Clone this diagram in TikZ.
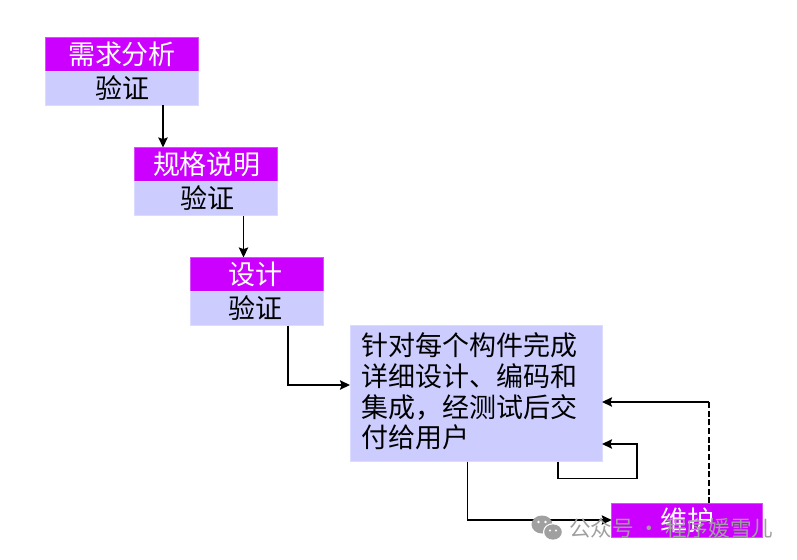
\documentclass[tikz,border=0pt]{standalone}
\usepackage{fontspec}
\setmainfont{Noto Sans CJK SC}
\usetikzlibrary{arrows.meta,calc}
\definecolor{headc}{HTML}{CC00FF}
\definecolor{bodyc}{HTML}{CCCCFF}
\definecolor{wmc}{HTML}{A0A0A0}
\def\u{0.75pt}
\newcommand{\lowtext}[2][0pt]{\hspace*{#1}\raisebox{-1.2pt}{#2}}
\tikzset{
  x=0.75pt,y=-0.75pt,
  cjktext/.style={font=\fontsize{20.25}{23}\selectfont,inner sep=0pt,outer sep=0pt},
  headbox/.style={cjktext,fill=headc,draw=headc!70!white,line width=0.4pt,text=white,anchor=north west},
  bodybox/.style={cjktext,fill=bodyc,draw=bodyc!70!white,line width=0.4pt,text=black,anchor=north west},
  flow/.style={line width=1.2pt,draw=black,-{Stealth[length=7.5pt,width=7pt,inset=1.2pt]}},
  flowplain/.style={line width=1.2pt,draw=black},
  wmtext/.style={font=\fontsize{16.2}{18}\selectfont,text=wmc,inner sep=0pt,anchor=west},
}
\begin{document}
\begin{tikzpicture}
\useasboundingbox (0,0) rectangle (797,560);
% requirements
\node[headbox,minimum width=153*\u,minimum height=34*\u] (h1) at (45.5,37.5) {\lowtext{需求分析}};
\node[bodybox,minimum width=153*\u,minimum height=34*\u] (b1) at (45.5,71.5) {\lowtext{验证}};
% specification
\node[headbox,minimum width=143*\u,minimum height=34*\u] (h2) at (134.5,147.5) {\lowtext[1.5pt]{规格说明}};
\node[bodybox,minimum width=143*\u,minimum height=34*\u] (b2) at (134.5,181.5) {\lowtext[1.5pt]{验证}};
% design
\node[headbox,minimum width=133*\u,minimum height=34*\u] (h3) at (190.5,257.5) {\lowtext{设计\hspace*{3pt}}};
\node[bodybox,minimum width=133*\u,minimum height=34*\u] (b3) at (190.5,291.5) {\lowtext{验证\hspace*{3pt}}};
% implementation
\node[bodybox,minimum width=252*\u,minimum height=136*\u] (impl) at (350,325.5) {};
\node[cjktext,anchor=north west,align=left] (impltext) at (361,333) {针对每个构件完成\\详细设计、编码和\\集成，经测试后交\\付给用户};
% maintenance
\node[headbox,minimum width=151*\u,minimum height=34*\u] (h4) at (611.7,503.4) {\lowtext{维护}};
% elbow coordinates
\coordinate (e1) at (288,385);
\coordinate (e2) at (467.5,520);
\coordinate (e3) at (558,478.5);
\coordinate (e4) at (637,444);
\coordinate (e5) at (709,402);
% connectors
\draw[flow] ([xshift=117.5*\u]b1.south west) -- ([xshift=28.5*\u]h2.north west);
\draw[flow] ([xshift=109*\u]b2.south west) -- ([xshift=53*\u]h3.north west);
\draw[flow] (b3.south -| e1) -- (e1) -- (e1 -| impl.west);
\draw[flow] (impl.south -| e2) -- (e2) -- (e2 -| h4.west);
\draw[flow] (impl.south -| e3) -- (e3) -- (e3 -| e4) -- (e4) -- (e4 -| impl.east);
\draw[flowplain,dash pattern=on 4.5pt off 2pt] (h4.north -| e5) -- (e5);
\draw[flow] (e5) -- (e5 -| impl.east);
% watermark
\fill[wmc] (542,524.5) ellipse [x radius=10.5,y radius=9];
\fill[white] (553,532) ellipse [x radius=10,y radius=8.8];
\fill[wmc] (553,532) ellipse [x radius=8.8,y radius=7.6];
\fill[white] (538.5,522) circle (1.4) (545.5,522) circle (1.4) (550,530.5) circle (1.2) (556,530.5) circle (1.2);
\node[wmtext] (wm) at (569,528.5) {公众号 · 程序媛雪儿};
\end{tikzpicture}
\end{document}
